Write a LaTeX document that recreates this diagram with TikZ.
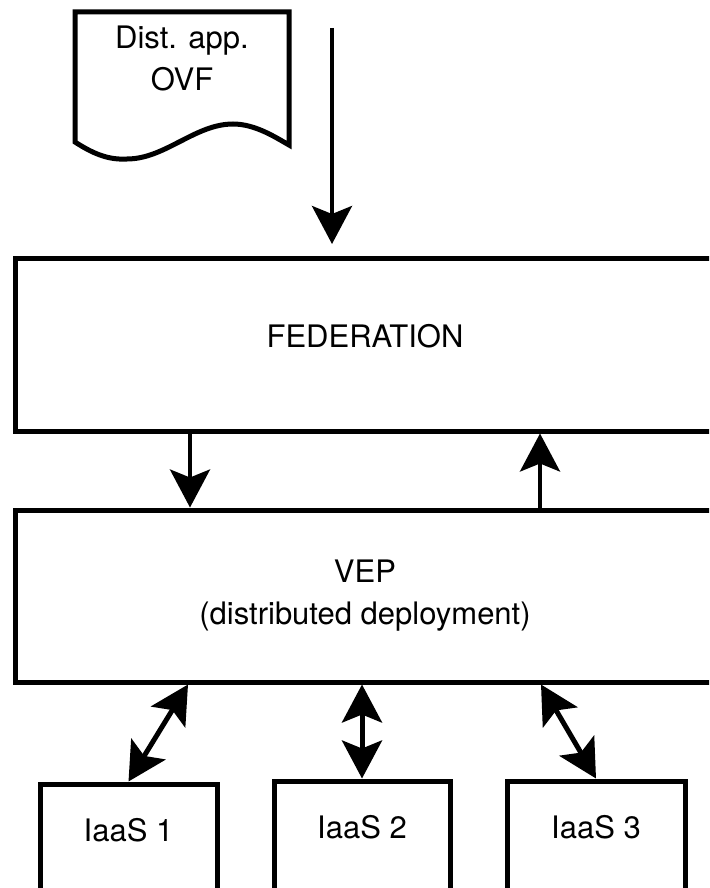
\documentclass[tikz,border=0pt]{standalone}
\usepackage{fontspec}
\setmainfont{TeX Gyre Heros}
\usetikzlibrary{arrows.meta}
\begin{document}
\begin{tikzpicture}[x=1pt,y=-1pt,
  every node/.style={font=\fontsize{31}{42}\selectfont},
  box/.style={draw, line width=5pt, rectangle, inner xsep=0pt},
  tipst/.tip={Stealth[length=38pt,width=40pt,inset=8pt]},
  arr/.style={line width=4pt, -tipst},
  biarr/.style={line width=5pt, tipst-tipst}]
\useasboundingbox (0,0) rectangle (709,888);
\clip (0,0) rectangle (709,888);
% document shape
\draw[line width=5pt] (75,12) -- (289,12) -- (289,145)
  .. controls (275,137) and (255,124) .. (233,124)
  .. controls (195,124) and (165,159) .. (127,159)
  .. controls (110,160) and (95,155) .. (75,142) -- cycle;
\node[align=center] (doc) at (182,58) {Dist. app.\\OVF};
% boxes
\node[box, anchor=base, minimum width=700pt, text height=29pt, text depth=24pt, inner ysep=60pt] (fed) at (365,347) {FEDERATION};
\node[box, minimum width=700pt, minimum height=172pt, align=center] (vep) at (365,596) {VEP\\(distributed deployment)};
\node[box, anchor=base, minimum width=177pt, text height=23pt, text depth=30pt, inner ysep=34pt] (i1) at (128.5,841) {IaaS 1};
\node[box, anchor=base, minimum width=176pt, text height=23pt, text depth=30pt, inner ysep=34pt] (i2) at (362,838) {IaaS 2};
\node[box, anchor=base, minimum width=178pt, text height=23pt, text depth=30pt, inner ysep=34pt] (i3) at (596,838) {IaaS 3};
% connectors
\coordinate (in0) at (332,28);
\coordinate (in1) at (332,244);
\draw[arr] (in0) -- (in1);
\coordinate (xa) at (190,0);
\coordinate (xb) at (540,0);
\draw[arr] (fed.south -| xa) -- (vep.north -| xa);
\draw[arr] (vep.north -| xb) -- (fed.south -| xb);
\coordinate (xc) at (188,0);
\coordinate (xd) at (541,0);
\draw[biarr] (vep.south -| xc) -- (i1.north);
\draw[biarr] (vep.south -| i2.north) -- (i2.north);
\draw[biarr] (vep.south -| xd) -- (i3.north);
\end{tikzpicture}
\end{document}
